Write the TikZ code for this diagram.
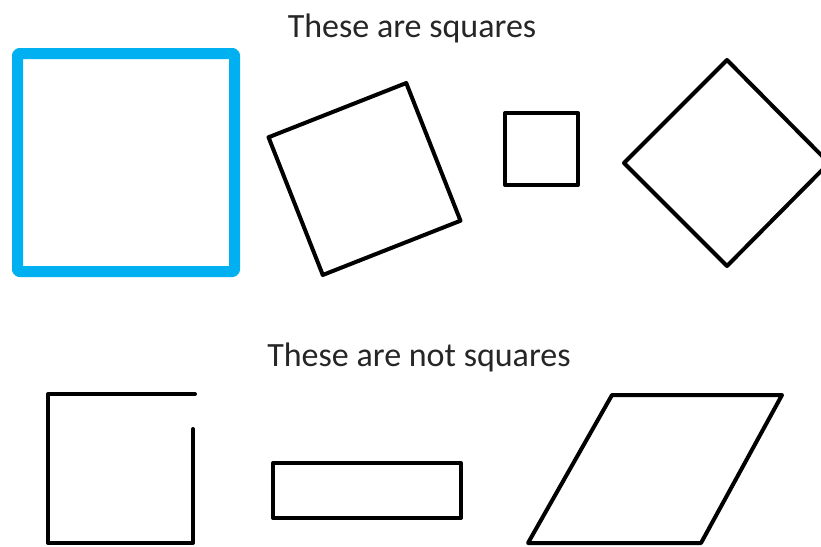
\documentclass[tikz,border=0pt]{standalone}
\usepackage{fontspec}
\setmainfont{Carlito}
\usepackage{tikz}
\usepackage{xcolor}
\definecolor{skyblue}{RGB}{0,176,240}
\definecolor{captiongray}{RGB}{38,38,38}

\begin{document}
\begin{tikzpicture}[x=1pt, y=-1pt,
    outline/.style={line width=4pt, line join=round, line cap=round, black},
    bluebox/.style={line width=11pt, line join=round, skyblue, rounded corners=2pt},
    caption/.style={anchor=base, text=captiongray, font=\fontsize{34}{40}\selectfont}]
  \useasboundingbox (0,0) rectangle (821,546);
  % Titler
  \node[caption] (titleyes) at (412,37) {These are squares};
  \node[caption] (titleno) at (419,366) {These are not squares};
  % Kvadrater
  \draw[bluebox] (17.5,53.5) rectangle (234.5,271.5);
  \draw[outline, shift={(364.5,179)}, rotate=21.5] (-74,-74) -- (74,-74) -- (74,74) -- (-74,74) -- cycle;
  \draw[outline] (505,113) rectangle (578,185);
  \draw[outline] (727,60) -- (829,163) -- (727,266) -- (624,163) -- cycle;
  % Ikke kvadrater
  \draw[outline] (195,394) -- (48,394) -- (48,543) -- (193,543) -- (193,429);
  \draw[outline] (273,463) rectangle (461,518);
  \draw[outline] (612,395) -- (782,395) -- (701,543) -- (528,543) -- cycle;
\end{tikzpicture}
\end{document}
